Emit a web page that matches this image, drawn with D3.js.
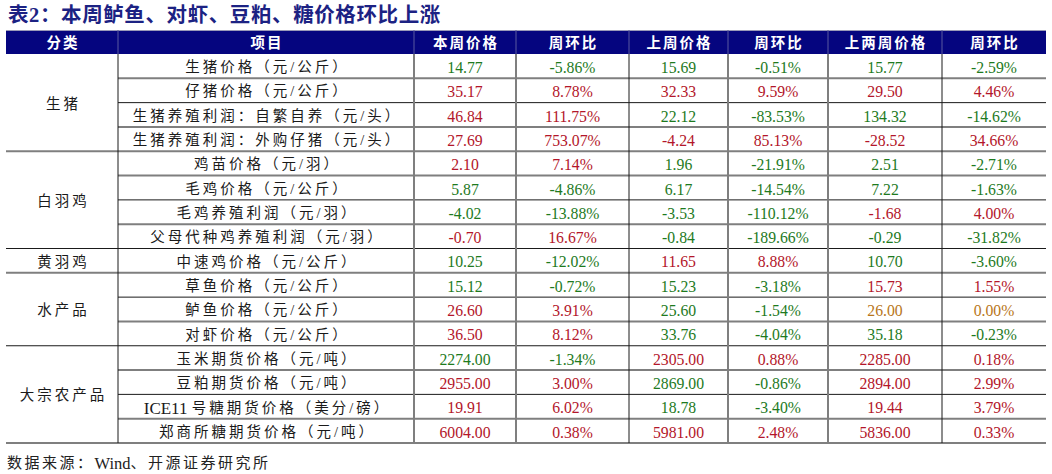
<!DOCTYPE html>
<html><head><meta charset="utf-8">
<script src="https://cdn.jsdelivr.net/npm/d3@7"></script>
<style>html,body{margin:0;padding:0;background:#fff;}svg{display:block;}</style>
</head><body><div id="chart"></div>
<script>
const title = "表2：本周鲈鱼、对虾、豆粕、糖价格环比上涨";
const source = "数据来源：Wind、开源证券研究所";
const headers = ["分类","项目","本周价格","周环比","上周价格","周环比","上两周价格","周环比"];
const groups = ["生猪","白羽鸡","黄羽鸡","水产品","大宗农产品"];
const groupSizes = [4,4,1,3,4];
const items = [
  "生猪价格（元/公斤）","仔猪价格（元/公斤）","生猪养殖利润：自繁自养（元/头）","生猪养殖利润：外购仔猪（元/头）",
  "鸡苗价格（元/羽）","毛鸡价格（元/公斤）","毛鸡养殖利润（元/羽）","父母代种鸡养殖利润（元/羽）",
  "中速鸡价格（元/公斤）",
  "草鱼价格（元/公斤）","鲈鱼价格（元/公斤）","对虾价格（元/公斤）",
  "玉米期货价格（元/吨）","豆粕期货价格（元/吨）","ICE11 号糖期货价格（美分/磅）","郑商所糖期货价格（元/吨）"
];
const thisWeek   = [14.77,35.17,46.84,27.69,2.10,5.87,-4.02,-0.70,10.25,15.12,26.60,36.50,2274.00,2955.00,19.91,6004.00];
const thisChg    = [-5.86,8.78,111.75,753.07,7.14,-4.86,-13.88,16.67,-12.02,-0.72,3.91,8.12,-1.34,3.00,6.02,0.38];
const lastWeek   = [15.69,32.33,22.12,-4.24,1.96,6.17,-3.53,-0.84,11.65,15.23,25.60,33.76,2305.00,2869.00,18.78,5981.00];
const lastChg    = [-0.51,9.59,-83.53,85.13,-21.91,-14.54,-110.12,-189.66,8.88,-3.18,-1.54,-4.04,0.88,-0.86,-3.40,2.48];
const twoWeeks   = [15.77,29.50,134.32,-28.52,2.51,7.22,-1.68,-0.29,10.70,15.73,26.00,35.18,2285.00,2894.00,19.44,5836.00];
const twoChg     = [-2.59,4.46,-14.62,34.66,-2.71,-1.63,4.00,-31.82,-3.60,1.55,0.00,-0.23,0.18,2.99,3.79,0.33];

const W = 1052, H = 474;
const left = 6, right = 1046, headTop = 30, headBot = 54, tableBot = 443;
const colEdges = [6,118,414,516,629,728,828,942,1046];
const RED = "#b3162a", GREEN = "#1e7a1e", ORANGE = "#b8761a";
const SERIF = "'Liberation Serif','Times New Roman','Noto Sans CJK SC',serif";
const CJK = "'Liberation Serif','Noto Sans CJK SC',sans-serif";

const svg = d3.select("#chart").append("svg").attr("width", W).attr("height", H);

const x = d3.scaleOrdinal().domain(d3.range(8)).range(colEdges.slice(0,8));
const xr = d3.scaleOrdinal().domain(d3.range(8)).range(colEdges.slice(1));
const xc = i => (x(i) + xr(i)) / 2;
const y = d3.scaleBand().domain(d3.range(items.length)).range([headBot, tableBot]).padding(0);
const color = v => v > 0 ? RED : (v < 0 ? GREEN : ORANGE);

// title
svg.append("text").attr("x", 8).attr("y", 15).attr("dominant-baseline","central")
  .attr("font-family", CJK).attr("font-weight","bold").attr("font-size", 20.5)
  .attr("letter-spacing", 0.6).attr("fill", "#1c2283").text(title);

// header
svg.append("rect").attr("x", left).attr("y", headTop).attr("width", right-left).attr("height", headBot-headTop).attr("fill", "#05057f");
svg.append("line").attr("x1",left).attr("x2",right).attr("y1",headTop+0.5).attr("y2",headTop+0.5).attr("stroke","#9a9ab8").attr("stroke-width",1);
svg.selectAll(".hsep").data(colEdges.slice(1,8)).enter().append("line")
  .attr("x1", d=>d).attr("x2", d=>d).attr("y1", headTop).attr("y2", headBot)
  .attr("stroke", "#5a5aa0").attr("stroke-width", 1);
svg.selectAll(".htext").data(headers).enter().append("text")
  .attr("x", (d,i)=>xc(i)+1).attr("y", (headTop+headBot)/2+0.5).attr("text-anchor","middle").attr("dominant-baseline","central")
  .attr("font-family", CJK).attr("font-weight","bold").attr("font-size", 14.5).attr("letter-spacing", 2)
  .attr("fill", "#fff").text(d=>d);

// group spans
const starts = []; let acc = 0;
groupSizes.forEach(s => { starts.push(acc); acc += s; });
const groupEnds = new Set(starts.map((s,i)=>s+groupSizes[i]));

// horizontal lines
for (let b = 1; b <= items.length; b++) {
  const yy = b < items.length ? y(b) : tableBot;
  const isGroup = groupEnds.has(b);
  const gray = (b % 2 === 1) || b === items.length || b === 4;
  svg.append("line")
    .attr("x1", isGroup ? left : colEdges[1]).attr("x2", right)
    .attr("y1", yy).attr("y2", yy)
    .attr("stroke", gray ? "#7f7f7f" : "#1a1a1a").attr("stroke-width", gray ? 2 : 1);
}
// vertical lines
const vStyle = ["k","g","g","k","g","g","k"];
colEdges.slice(1,8).forEach((cx,i) => {
  const g = vStyle[i] === "g";
  svg.append("line").attr("x1", cx).attr("x2", cx).attr("y1", headBot).attr("y2", tableBot)
    .attr("stroke", g ? "#7f7f7f" : "#1a1a1a").attr("stroke-width", g ? 2 : 1);
});

// group labels
svg.selectAll(".gtext").data(groups).enter().append("text")
  .attr("x", xc(0)+1.5).attr("y", (d,i)=> (y(starts[i]) + (starts[i]+groupSizes[i] < items.length ? y(starts[i]+groupSizes[i]) : tableBot))/2 + 1)
  .attr("text-anchor","middle").attr("dominant-baseline","central")
  .attr("font-family", CJK).attr("font-size", 14.5).attr("letter-spacing", 3).attr("fill", "#1a1a1a").text(d=>d);

// item labels (latin prefix without extra spacing)
const itemText = svg.selectAll(".itext").data(items).enter().append("text")
  .attr("x", xc(1)+1.5).attr("y", (d,i)=> y(i)+y.bandwidth()/2+1)
  .attr("text-anchor","middle").attr("dominant-baseline","central")
  .attr("font-family", CJK).attr("font-size", 14.5).attr("fill", "#1a1a1a");
itemText.each(function(d) {
  const m = d.match(/^([A-Za-z0-9]+ )(.*)$/);
  const t = d3.select(this);
  if (m) {
    t.append("tspan").attr("font-size", 17).text(m[1]);
    t.append("tspan").attr("letter-spacing", 3).text(m[2]);
  } else {
    t.append("tspan").attr("letter-spacing", 3).text(d);
  }
});

// numeric cells
const cols = [
  {vals: thisWeek, chg: thisChg, pct:false},
  {vals: thisChg, chg: thisChg, pct:true},
  {vals: lastWeek, chg: lastChg, pct:false},
  {vals: lastChg, chg: lastChg, pct:true},
  {vals: twoWeeks, chg: twoChg, pct:false},
  {vals: twoChg, chg: twoChg, pct:true}
];
cols.forEach((c, ci) => {
  const col = ci + 2;
  svg.selectAll(".n"+ci).data(c.vals).enter().append("text")
    .attr("transform", (d,i)=>`translate(${xc(col)},${y(i)+y.bandwidth()/2+1}) scale(0.9,1)`)
    .attr("text-anchor","middle").attr("dominant-baseline","central")
    .attr("font-family", SERIF).attr("font-size", 17.5)
    .attr("fill", (d,i)=>color(c.chg[i]))
    .text(d => d.toFixed(2) + (c.pct ? "%" : ""));
});

// source
const src = svg.append("text").attr("x", 7).attr("y", 463).attr("dominant-baseline","central")
  .attr("font-family", CJK).attr("font-size", 15).attr("fill", "#222");
src.append("tspan").attr("letter-spacing", 2.5).text("数据来源：");
src.append("tspan").attr("font-size", 16.5).text("Wind");
src.append("tspan").attr("letter-spacing", 2.5).text("、开源证券研究所");
</script></body></html>
